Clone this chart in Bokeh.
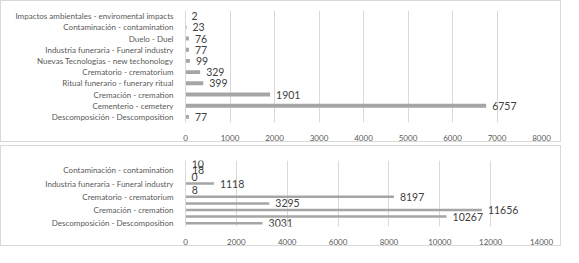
from bokeh.plotting import figure
from bokeh.layouts import column
from bokeh.models import ColumnDataSource, Range1d, FixedTicker, SingleIntervalTicker
from bokeh.core.properties import value
from bokeh.embed import file_html
from bokeh.resources import INLINE

# ---- data (bottom to top) ----
top_categories = [
    "Descomposición - Descomposition",
    "Cementerio - cemetery",
    "Cremación - cremation",
    "Ritual funerario - funerary ritual",
    "Crematorio - crematorium",
    "Nuevas Tecnologias - new techonology",
    "Industria funeraria - Funeral industry",
    "Duelo - Duel",
    "Contaminación - contamination",
    "Impactos ambientales - enviromental impacts",
]
top_values = [77, 6757, 1901, 399, 329, 99, 77, 76, 23, 2]

bottom_categories = top_categories
bottom_values = [3031, 10267, 11656, 3295, 8197, 8, 1118, 0, 18, 10]
bottom_shown_labels = [0, 2, 4, 6, 8]

BAR = "#a5a5a5"
GRID = "#d9d9d9"
AXIS_TXT = "#595959"
DATA_TXT = "#404040"
FONT = "Lato"


def make(cats, vals, xmax, step, shown, w, h, left, right, top, bottom, bar_h):
    idx = list(range(len(cats)))
    src = ColumnDataSource(dict(y=idx, v=vals, lab=[str(v) for v in vals]))
    p = figure(width=w, height=h, output_backend="svg", toolbar_location=None,
               x_range=Range1d(0, xmax), y_range=Range1d(-0.5, len(cats) - 0.5),
               min_border_left=left, min_border_right=right,
               min_border_top=top, min_border_bottom=bottom)
    p.hbar(y="y", left=0, right="v", height=bar_h, source=src,
           fill_color=BAR, line_color=None)
    p.text(x="v", y="y", text="lab", source=src, x_offset=6,
           text_align="left", text_baseline="middle",
           text_font=value(FONT), text_font_size="10.5px", text_color=DATA_TXT)
    p.outline_line_color = None
    p.ygrid.grid_line_color = None
    p.xgrid.grid_line_color = GRID
    p.xaxis.ticker = SingleIntervalTicker(interval=step)
    p.yaxis.ticker = FixedTicker(ticks=shown)
    p.yaxis.major_label_overrides = {i: cats[i] for i in shown}
    for ax in (p.xaxis[0], p.yaxis[0]):
        ax.major_tick_line_color = None
        ax.minor_tick_line_color = None
        ax.major_label_text_font = FONT
        ax.major_label_text_font_size = "8px"
        ax.major_label_text_color = AXIS_TXT
    p.xaxis.axis_line_color = None
    p.yaxis.axis_line_color = GRID
    p.yaxis.major_label_standoff = 6
    p.xaxis.major_label_standoff = 6
    p.styles = {"border": "1px solid #d9d9d9"}
    return p


p1 = make(top_categories, top_values, 8000, 1000, list(range(10)),
          561, 142, 184, 19, 9, 18, 0.35)
p2 = make(bottom_categories, bottom_values, 14000, 2000, bottom_shown_labels,
          561, 101, 150, 21, 14, 20, 0.38)

layout = column(p1, p2, spacing=3)
open("out.html", "w").write(file_html(layout, INLINE))
